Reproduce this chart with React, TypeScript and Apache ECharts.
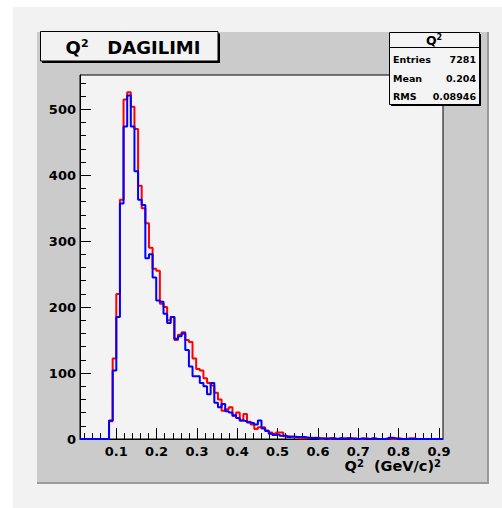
import React, { useEffect, useRef } from "react";
import * as echarts from "echarts";

// ---- data ----
const X_MIN = 0.01;
const X_MAX = 0.91;
const Y_MAX = 552;

const redCounts = [
  0, 0, 0, 0, 0, 0, 0, 0, 27, 122,
  220, 363, 515, 526, 504, 470, 384, 350, 327, 290,
  258, 255, 205, 200, 180, 185, 150, 158, 162, 150,
  147, 122, 106, 104, 92, 85, 81, 70, 60, 43,
  45, 48, 35, 40, 28, 38, 26, 22, 15, 18,
  18, 13, 10, 8, 10, 10, 4, 4, 3, 2,
  3, 1, 2, 2, 1, 2, 0, 1, 0, 1,
  0, 1, 1, 1, 0, 1, 0, 0, 1, 0,
  1, 0, 0, 0, 1, 0, 0, 1, 0, 0,
  1, 1, 0, 0, 0, 0, 0, 0, 0, 0,
];

const blueCounts = [
  0, 0, 0, 0, 0, 0, 0, 0, 28, 104,
  185, 357, 474, 521, 474, 406, 363, 355, 274, 280,
  245, 210, 208, 190, 176, 185, 152, 156, 160, 135,
  110, 95, 95, 85, 80, 68, 85, 55, 48, 53,
  42, 40, 36, 32, 28, 27, 25, 24, 22, 28,
  16, 12, 8, 6, 7, 5, 5, 3, 4, 3,
  3, 3, 2, 1, 2, 1, 1, 0, 1, 1,
  0, 1, 0, 1, 1, 0, 0, 1, 0, 0,
  1, 0, 0, 0, 0, 2, 1, 0, 0, 0,
  0, 0, 0, 0, 0, 0, 0, 0, 0, 0,
];

const xMajorTicks = [0.1, 0.2, 0.3, 0.4, 0.5, 0.6, 0.7, 0.8, 0.9];
const yMajorTicks = [0, 100, 200, 300, 400, 500];

const titleRich = "{b|Q}{s|2}{b|   DAGILIMI}";
const axisTitleRich = "{b|Q}{s|2}{b|  (GeV/c)}{s|2}";
const statsHeaderRich = "{b|Q}{s|2}";
const statsNames = ["Entries", "Mean", "RMS"];
const statsValues = ["7281", "0.204", "0.08946"];

// ---- helpers ----
function histPoints(counts: number[]): number[][] {
  const n = counts.length;
  const w = (X_MAX - X_MIN) / n;
  const pts: number[][] = [];
  for (let i = 0; i < n; i++) pts.push([X_MIN + i * w, counts[i]]);
  pts.push([X_MAX, counts[n - 1]]);
  return pts;
}

function minorTicks(step: number, lo: number, hi: number, majors: number[]): number[] {
  const out: number[] = [];
  for (let k = Math.ceil(lo / step - 1e-9); k * step <= hi + 1e-9; k++) {
    const v = +(k * step).toFixed(6);
    if (!majors.some((m) => Math.abs(m - v) < 1e-9)) out.push(v);
  }
  return out;
}

const FONT = "DejaVu Sans";

function richStyle(big: number, small: number) {
  return {
    b: { fontFamily: FONT, fontWeight: "bold", fontSize: big, fill: "#000", color: "#000" },
    s: { fontFamily: FONT, fontWeight: "bold", fontSize: small, fill: "#000", color: "#000", verticalAlign: "top" },
  };
}

export default function App() {
  const ref = useRef<HTMLDivElement>(null);

  useEffect(() => {
    if (!ref.current) return;
    const chart = echarts.init(ref.current, undefined, { renderer: "svg" });

    const xMinor = minorTicks(0.02, X_MIN, X_MAX, xMajorTicks);
    const yMinor = minorTicks(20, 0, Y_MAX, yMajorTicks);

    const statsTop = 32;
    const statsLeft = 389;
    const statsW = 90;
    const statsH = 72;
    const rowYs = [59, 78, 96];

    const statsGraphics: any[] = [];
    statsNames.forEach((nm, i) => {
      statsGraphics.push({
        type: "text",
        z: 101,
        x: statsLeft + 4,
        y: rowYs[i],
        style: {
          text: nm,
          font: `bold 9.5px '${FONT}'`,
          fill: "#000",
          textAlign: "left",
          textVerticalAlign: "middle",
        },
      });
      statsGraphics.push({
        type: "text",
        z: 101,
        x: statsLeft + statsW - 3,
        y: rowYs[i],
        style: {
          text: statsValues[i],
          font: `bold 9.5px '${FONT}'`,
          fill: "#000",
          textAlign: "right",
          textVerticalAlign: "middle",
        },
      });
    });

    const option: any = {
      animation: false,
      backgroundColor: "#ffffff",
      graphic: [
        { type: "rect", z: -10, shape: { x: 13, y: 7, width: 489, height: 501 }, style: { fill: "#f2f2f2" } },
        { type: "rect", z: -9, shape: { x: 37, y: 32, width: 451, height: 451 }, style: { fill: "#cbcbcb" } },
        { type: "line", z: -8, shape: { x1: 488, y1: 32, x2: 488, y2: 484 }, style: { stroke: "#9a9a9a", lineWidth: 2 } },
        { type: "line", z: -8, shape: { x1: 37, y1: 483, x2: 489, y2: 483 }, style: { stroke: "#9a9a9a", lineWidth: 2 } },
        // title box
        { type: "rect", z: 100, shape: { x: 42, y: 33.5, width: 178, height: 29.5 }, style: { fill: "#000" } },
        { type: "rect", z: 100, shape: { x: 40.5, y: 31.5, width: 177.5, height: 29.5 }, style: { fill: "#f2f2f2", stroke: "#000", lineWidth: 1 } },
        {
          type: "text",
          z: 101,
          x: 133,
          y: 47,
          style: {
            text: titleRich,
            rich: richStyle(18, 11),
            fill: "#000",
            textAlign: "center",
            textVerticalAlign: "middle",
          },
        },
        // stats box
        { type: "rect", z: 100, shape: { x: statsLeft + 2, y: statsTop + 2, width: statsW, height: statsH }, style: { fill: "#000" } },
        { type: "rect", z: 100, shape: { x: statsLeft + 0.5, y: statsTop + 0.5, width: statsW, height: statsH }, style: { fill: "#f4f4f4", stroke: "#000", lineWidth: 1 } },
        { type: "line", z: 101, shape: { x1: statsLeft, y1: 47.5, x2: statsLeft + statsW, y2: 47.5 }, style: { stroke: "#000", lineWidth: 1 } },
        {
          type: "text",
          z: 101,
          x: statsLeft + statsW / 2,
          y: 40,
          style: {
            text: statsHeaderRich,
            rich: richStyle(12.5, 8),
            fill: "#000",
            textAlign: "center",
            textVerticalAlign: "middle",
          },
        },
        ...statsGraphics,
      ],
      grid: {
        left: 80,
        top: 75,
        width: 363,
        height: 364,
        show: true,
        backgroundColor: "#f3f3f3",
        borderColor: "#000",
        borderWidth: 1,
        containLabel: false,
      },
      xAxis: [
        {
          type: "value",
          position: "bottom",
          min: X_MIN,
          max: X_MAX,
          axisLine: { show: true, lineStyle: { color: "#000", width: 1 } },
          axisTick: { show: true, inside: true, length: 11, customValues: xMajorTicks, lineStyle: { color: "#000" } },
          axisLabel: {
            show: true,
            customValues: xMajorTicks,
            formatter: (v: number) => v.toFixed(1),
            fontFamily: FONT,
            fontWeight: "bold",
            fontSize: 13,
            color: "#000",
            margin: 6,
          },
          splitLine: { show: false },
          name: axisTitleRich,
          nameLocation: "end",
          nameGap: -2,
          nameTextStyle: {
            fontFamily: FONT,
            fontWeight: "bold",
            fontSize: 14.5,
            color: "#000",
            align: "right",
            verticalAlign: "top",
            padding: [19, 0, 0, 0],
            rich: richStyle(14.5, 10),
          },
        },
        {
          type: "value",
          position: "bottom",
          min: X_MIN,
          max: X_MAX,
          axisLine: { show: false },
          axisTick: { show: true, inside: true, length: 6, customValues: xMinor, lineStyle: { color: "#000" } },
          axisLabel: { show: false },
          splitLine: { show: false },
        },
      ],
      yAxis: [
        {
          type: "value",
          position: "left",
          min: 0,
          max: Y_MAX,
          axisLine: { show: true, lineStyle: { color: "#000", width: 1 } },
          axisTick: { show: true, inside: true, length: 11, customValues: yMajorTicks, lineStyle: { color: "#000" } },
          axisLabel: {
            show: true,
            customValues: yMajorTicks,
            fontFamily: FONT,
            fontWeight: "bold",
            fontSize: 13,
            color: "#000",
            margin: 4,
          },
          splitLine: { show: false },
        },
        {
          type: "value",
          position: "left",
          min: 0,
          max: Y_MAX,
          axisLine: { show: false },
          axisTick: { show: true, inside: true, length: 6, customValues: yMinor, lineStyle: { color: "#000" } },
          axisLabel: { show: false },
          splitLine: { show: false },
        },
      ],
      series: [
        {
          name: "red",
          type: "line",
          step: "end",
          xAxisIndex: 0,
          yAxisIndex: 0,
          data: histPoints(redCounts),
          symbol: "none",
          lineStyle: { color: "#ff0000", width: 2 },
          z: 3,
        },
        {
          name: "blue",
          type: "line",
          step: "end",
          xAxisIndex: 0,
          yAxisIndex: 0,
          data: histPoints(blueCounts),
          symbol: "none",
          lineStyle: { color: "#0000ff", width: 2 },
          z: 4,
        },
      ],
    };

    chart.setOption(option);
    return () => {
      chart.dispose();
    };
  }, []);

  return (
    <div
      ref={ref}
      style={{ position: "absolute", left: 0, top: 0, width: 502, height: 508 }}
    />
  );
}
